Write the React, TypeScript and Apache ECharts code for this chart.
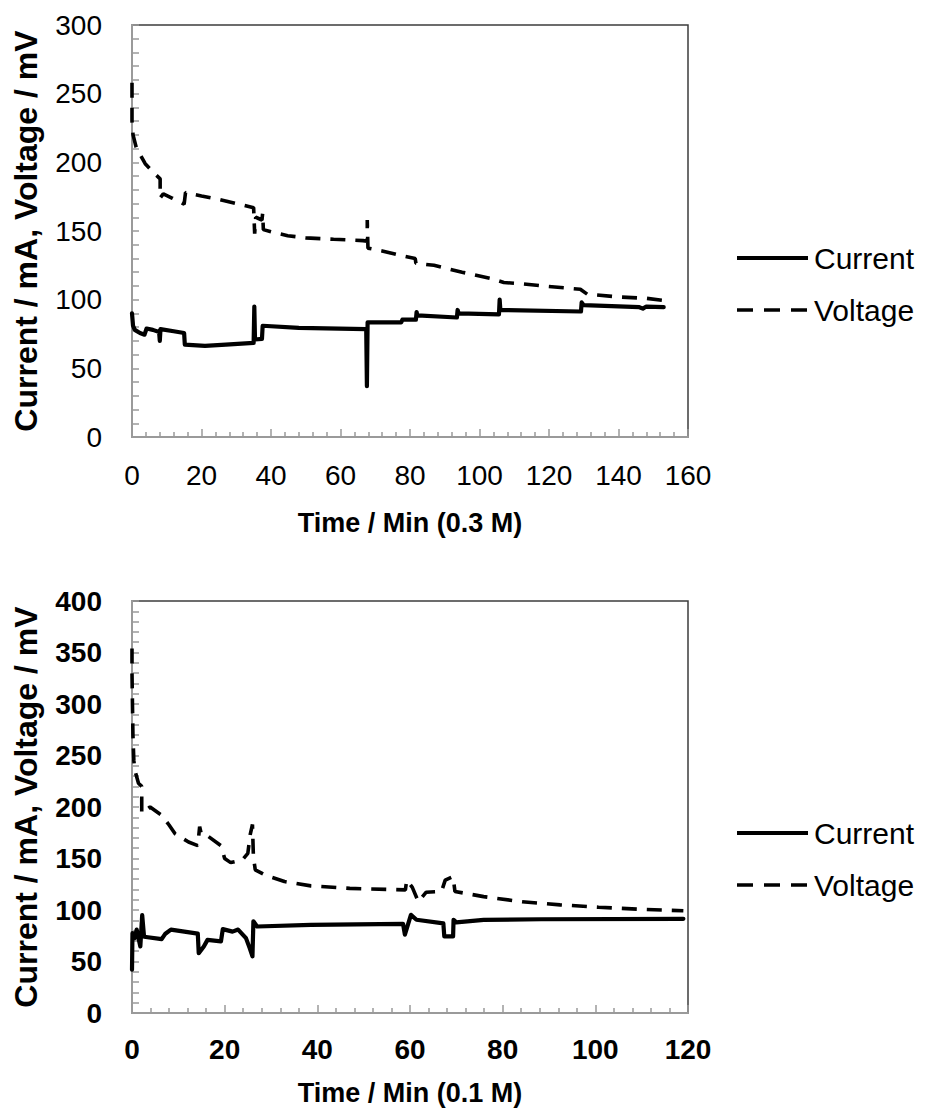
import React, { useEffect, useRef } from "react";
import * as echarts from "echarts";

// ---- Data ----
// Top chart: 0.3 M
const topXTicks = [0, 20, 40, 60, 80, 100, 120, 140, 160];
const topYTicks = [0, 50, 100, 150, 200, 250, 300];
const topCurrent: [number, number][] = [
  [0, 90], [0.3, 81], [0.8, 78], [2.3, 75.7], [3.6, 74.5], [4.2, 79], [6, 78], [7.8, 76.5],
  [8, 70], [8.2, 78.6], [12, 77], [15, 75.7], [15.2, 67.2], [21, 66.3], [27, 67.3], [35, 68.5],
  [35.2, 95], [35.4, 71], [37.4, 71.4], [37.6, 81], [48, 79.5], [67.4, 78.5], [67.6, 37],
  [67.8, 83.5], [77.5, 83.5], [77.8, 85.4], [81.7, 85.4], [81.9, 91], [82.1, 88.5], [93.5, 87],
  [93.7, 92.5], [94, 90], [105.6, 89.3], [105.8, 100], [106, 92.5], [129.2, 91.4], [129.4, 98],
  [130, 96], [146, 94.5], [147, 93.5], [148, 95], [153, 94.6],
];
const topVoltage: [number, number][] = [
  [0, 258], [0, 230], [0.3, 220], [1.2, 211], [3.8, 199], [6.4, 192], [8.1, 188], [8.1, 174],
  [9, 177], [11.5, 174], [15, 169.5], [15.4, 178], [20, 175.5], [25, 173], [30, 170], [35, 167],
  [35.3, 148], [35.6, 160], [37.4, 158], [37.6, 163], [37.8, 151], [40.7, 149], [44.8, 146.6],
  [50, 145], [58, 144], [66.5, 143], [67.7, 142.5], [67.7, 158], [67.9, 137.5], [72, 135.5],
  [77.6, 132], [81.5, 130], [81.7, 126.5], [86.9, 125], [95, 120], [103, 115.6], [107, 112.5],
  [112.5, 111.5], [119.7, 109.6], [129, 107.6], [131, 104], [140, 102], [148, 101], [153, 99.4],
];

// Bottom chart: 0.1 M
const botXTicks = [0, 20, 40, 60, 80, 100, 120];
const botYTicks = [0, 50, 100, 150, 200, 250, 300, 350, 400];
const botCurrent: [number, number][] = [
  [0, 42], [0.1, 77.5], [0.6, 72.7], [1, 81], [1.8, 64.6], [2.2, 95], [2.6, 74], [6.4, 71.7],
  [7.2, 77], [8.4, 81], [14.2, 77], [14.4, 58], [15.5, 64.6], [16.3, 71], [19.2, 69.5],
  [19.6, 81.4], [21.7, 79], [22.9, 81], [24.6, 72.7], [25.4, 63], [26, 55], [26.2, 89], [27, 84],
  [38.6, 85.6], [58.5, 86.6], [58.9, 76], [60.2, 95.3], [61.4, 90.5], [67.2, 87], [67.4, 74.3],
  [69.3, 74.3], [69.4, 90.5], [70, 88], [75.9, 90.5], [88.3, 91], [119, 91.4],
];
const botVoltage: [number, number][] = [
  [0, 354], [0, 330], [0.1, 300], [0.2, 270], [0.4, 245], [0.6, 236], [1.4, 223], [2.1, 220],
  [2.1, 194], [3.9, 200], [6.4, 192], [8, 182.5], [9.3, 174], [12.2, 166], [14.2, 162.5],
  [14.6, 181], [15, 173], [16.3, 172], [19.2, 162.5], [20, 150], [21.3, 146], [23.8, 148.6],
  [25, 155], [25.5, 173], [26, 183], [26.2, 152], [26.6, 139], [28.7, 134], [32.9, 127.6],
  [38.6, 123.4], [47, 121], [55.2, 120], [59, 119.5], [59.3, 129], [60.5, 122], [61.8, 108],
  [63.5, 117.3], [66.8, 118], [67.6, 129], [69.3, 132.5], [69.7, 118], [75.9, 113], [84.2, 108],
  [92.4, 105], [100.7, 102.7], [109, 100.8], [119, 99.2],
];

const seriesNames = ["Current", "Voltage"];
const xTitles = ["Time / Min (0.3 M)", "Time / Min (0.1 M)"];
const yTitle = "Current / mA, Voltage / mV";

const FONT = "'Liberation Sans', Arial, sans-serif";

export default function App() {
  const ref = useRef<HTMLDivElement>(null);

  useEffect(() => {
    if (!ref.current) return;
    const chart = echarts.init(ref.current, undefined, { renderer: "svg" });

    const axisLineGray = { show: true, lineStyle: { color: "#9a9a9a", width: 2 } };
    const mkX = (idx: number, ticks: number[], bold: boolean) => ({
      type: "value",
      gridIndex: idx,
      min: ticks[0],
      max: ticks[ticks.length - 1],
      interval: ticks[1] - ticks[0],
      axisLine: axisLineGray,
      axisTick: { show: true, inside: true, length: 8, lineStyle: { color: "#9a9a9a", width: 1.5 } },
      minorTick: { show: true, splitNumber: 5, length: 5, lineStyle: { color: "#9a9a9a", width: 1.5 } },
      splitLine: { show: false },
      axisLabel: {
        margin: idx === 0 ? 24 : 22,
        fontSize: 28,
        fontFamily: FONT,
        fontWeight: bold ? "bold" : "normal",
        color: "#000",
      },
      name: xTitles[idx],
      nameLocation: "middle",
      nameGap: idx === 0 ? 72 : 66,
      nameTextStyle: { fontSize: 27, fontWeight: "bold", fontFamily: FONT, color: "#000" },
    });
    const mkY = (idx: number, ticks: number[], bold: boolean) => ({
      type: "value",
      gridIndex: idx,
      min: ticks[0],
      max: ticks[ticks.length - 1],
      interval: ticks[1] - ticks[0],
      axisLine: axisLineGray,
      axisTick: { show: true, inside: true, length: 7, lineStyle: { color: "#9a9a9a", width: 1.5 } },
      minorTick: { show: true, splitNumber: 5, length: 7, lineStyle: { color: "#9a9a9a", width: 1.5 } },
      splitLine: { show: false },
      axisLabel: {
        margin: 30,
        fontSize: 28,
        fontFamily: FONT,
        fontWeight: bold ? "bold" : "normal",
        color: "#000",
      },
      name: yTitle,
      nameLocation: "middle",
      nameGap: 90,
      nameTextStyle: { fontSize: 32, fontWeight: "bold", fontFamily: FONT, color: "#000" },
    });

    const curStyle = { color: "#000", width: 4.2, type: "solid", cap: "round", join: "round" };
    const voltStyle = { color: "#000", width: 3.6, type: [15, 10] };

    const mkSeries = (name: string, data: [number, number][], idx: number, style: any) => ({
      name,
      type: "line",
      xAxisIndex: idx,
      yAxisIndex: idx,
      data,
      symbol: "none",
      showSymbol: false,
      lineStyle: style,
      itemStyle: { color: "#000" },
      emphasis: { disabled: true },
    });

    // Legend drawn as graphic (line sample + text), one per chart
    const legendItems = (y0: number) => [
      { type: "line", shape: { x1: 737, y1: y0, x2: 808, y2: y0 }, style: { stroke: "#000", lineWidth: 4 } },
      {
        type: "text", x: 814, y: y0,
        style: { text: seriesNames[0], font: `30px ${FONT}`, fill: "#000", textVerticalAlign: "middle", verticalAlign: "middle" },
      },
      { type: "line", shape: { x1: 737, y1: y0 + 52, x2: 808, y2: y0 + 52 }, style: { stroke: "#000", lineWidth: 3.6, lineDash: [16, 11] } },
      {
        type: "text", x: 814, y: y0 + 52,
        style: { text: seriesNames[1], font: `30px ${FONT}`, fill: "#000", textVerticalAlign: "middle", verticalAlign: "middle" },
      },
    ];

    chart.setOption({
      animation: false,
      backgroundColor: "#fff",
      grid: [
        { left: 132, top: 25, width: 556, height: 412, show: true, borderColor: "#3c3c3c", borderWidth: 1.5, backgroundColor: "transparent" },
        { left: 132, top: 601, width: 556, height: 412, show: true, borderColor: "#3c3c3c", borderWidth: 1.5, backgroundColor: "transparent" },
      ],
      xAxis: [mkX(0, topXTicks, false), mkX(1, botXTicks, true)],
      yAxis: [mkY(0, topYTicks, false), mkY(1, botYTicks, true)],
      graphic: [...legendItems(258), ...legendItems(833)],
      series: [
        mkSeries(seriesNames[0], topCurrent, 0, curStyle),
        mkSeries(seriesNames[1], topVoltage, 0, voltStyle),
        mkSeries(seriesNames[0], botCurrent, 1, curStyle),
        mkSeries(seriesNames[1], botVoltage, 1, voltStyle),
      ],
    });

    return () => chart.dispose();
  }, []);

  return (
    <div
      ref={ref}
      style={{ position: "absolute", left: 0, top: 0, width: 926, height: 1112, background: "#fff" }}
    />
  );
}
